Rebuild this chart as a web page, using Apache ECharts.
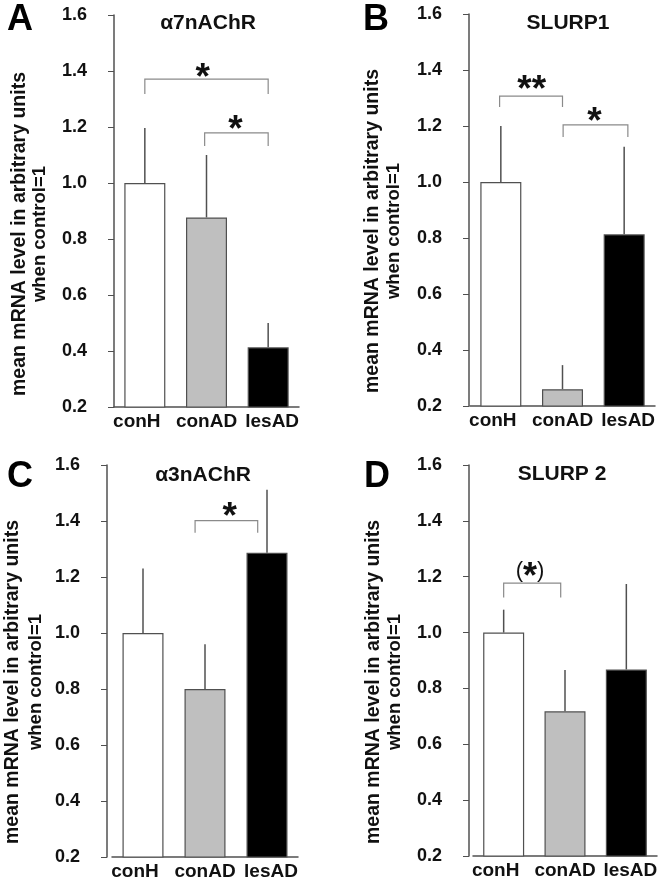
<!DOCTYPE html>
<html>
<head>
<meta charset="utf-8">
<script src="https://cdn.jsdelivr.net/npm/echarts@6/dist/echarts.min.js"></script>
<style>
    html, body { margin: 0; padding: 0; background: #fff; }
    #main { width: 664px; height: 885px; }
</style>
</head>
<body>
<div id="main"></div>
<script>
var categories = ['conH', 'conAD', 'lesAD'];
var panelLetters = ['A', 'B', 'C', 'D'];
var panelTitles = ['α7nAChR', 'SLURP1', 'α3nAChR', 'SLURP 2'];
var yName1 = 'mean mRNA level in arbitrary units';
var yName2 = 'when control=1';

// bar means
var meanA = [1.0, 0.877, 0.413];
var meanB = [1.0, 0.26, 0.813];
var meanC = [1.0, 0.80, 1.287];
var meanD = [1.0, 0.718, 0.868];

// upper ends of the error bars
var errTopA = [1.196, 1.10, 0.50];
var errTopB = [1.20, 0.346, 1.126];
var errTopC = [1.23, 0.96, 1.512];
var errTopD = [1.082, 0.866, 1.174];

// brackets: [from, to, top, leftLegEnd, rightLegEnd, starX, starY, label]
var bracketsA = [[0, 2, 1.371, 1.318, 1.318, 0.94, 1.40, '*'], [0.97, 2, 1.179, 1.132, 1.132, 1.47, 1.214, '*']];
var bracketsB = [[-0.02, 1.0, 1.307, 1.268, 1.268, 0.50, 1.354, '**'], [1.01, 2.06, 1.204, 1.161, 1.161, 1.52, 1.239, '*']];
var bracketsC = [[0.84, 1.85, 1.401, 1.358, 1.358, 1.40, 1.439, '*']];
var bracketsD = [[0, 0.93, 1.177, 1.126, 1.126, 0.43, 1.222, '(*)']];

var yMin = 0.2, yMax = 1.6, yStep = 0.2;
var barColors = ['#ffffff', '#bfbfbf', '#000000'];

var means = [meanA, meanB, meanC, meanD];
var errTops = [errTopA, errTopB, errTopC, errTopD];
var brackets = [bracketsA, bracketsB, bracketsC, bracketsD];

// layout of the four panels
var grids = [
    {left: 114, top: 15, width: 185, height: 392},
    {left: 470, top: 14, width: 185, height: 392},
    {left: 112, top: 465, width: 186, height: 392},
    {left: 473, top: 465, width: 184, height: 391}
];
var axisOffsets = [0, 1, 5, 4];
var labelPads = [[0, 16, 0, 0], [0, 0, 0, 0], [0, 0, 0, 8]];   // spreads the x labels a little
var letterPos = [[20, 20], [376, 20], [20, 477], [377, 477]];
var titlePos = [[208, 23], [568, 23], [203, 475], [562, 474]];
var namePos = [[20, 40, 234], [373, 394, 231], [13, 36, 682], [374, 395, 682]];

var FONT = 'Liberation Sans, Arial, sans-serif';

function errorBarItem(params, api) {
    var base = api.coord([api.value(0), api.value(1)]);
    var top = api.coord([api.value(0), api.value(2)]);
    return {
        type: 'line',
        shape: {x1: base[0], y1: base[1], x2: top[0], y2: top[1]},
        style: {stroke: '#505050', lineWidth: 1.5}
    };
}

function bracketItem(params, api) {
    var a = api.coord([api.value(0), api.value(3)]);
    var b = api.coord([api.value(0), api.value(2)]);
    var c = api.coord([api.value(1), api.value(2)]);
    var d = api.coord([api.value(1), api.value(4)]);
    var s = api.coord([api.value(5), api.value(6)]);
    var label = api.value(7);
    var textEl;
    if (label === '(*)') {
        textEl = {
            type: 'text',
            x: s[0], y: s[1],
            style: {
                text: '{p|(}{s|*}{p|)}',
                align: 'center', verticalAlign: 'middle',
                rich: {
                    p: {font: 'normal 22px ' + FONT, fill: '#111'},
                    s: {font: 'bold 36px ' + FONT, fill: '#111', padding: [16, 0, 0, 0]}
                }
            }
        };
    } else {
        textEl = {
            type: 'text',
            x: s[0], y: s[1] + 8,
            style: {
                text: label,
                align: 'center', verticalAlign: 'middle',
                font: 'bold 37px ' + FONT, fill: '#111'
            }
        };
    }
    return {
        type: 'group',
        children: [{
            type: 'polyline',
            shape: {points: [a, b, c, d]},
            style: {stroke: '#8a8a8a', lineWidth: 1.2, fill: null}
        }, textEl]
    };
}

function buildOption() {
    var option = {
        backgroundColor: '#fff',
        animation: false,
        grid: [],
        xAxis: [],
        yAxis: [],
        series: [],
        graphic: []
    };
    var catData = [];
    for (var k = 0; k < categories.length; k++) {
        catData.push({value: categories[k], textStyle: {padding: labelPads[k]}});
    }
    for (var i = 0; i < 4; i++) {
        option.grid.push(grids[i]);
        option.xAxis.push({
            type: 'category',
            gridIndex: i,
            data: catData,
            axisLine: {onZero: false, lineStyle: {color: '#505050', width: 1.5}},
            axisTick: {show: false},
            axisLabel: {interval: 0, fontSize: 19, fontWeight: 'bold', fontFamily: FONT, color: '#111', margin: 5}
        });
        option.yAxis.push({
            type: 'value',
            gridIndex: i,
            min: yMin, max: yMax, interval: yStep,
            offset: axisOffsets[i],
            splitLine: {show: false},
            axisLine: {show: true, onZero: false, lineStyle: {color: '#505050', width: 1.5}},
            axisTick: {show: true, length: 6, lineStyle: {color: '#505050'}},
            axisLabel: {
                fontSize: 18, fontWeight: 'bold', fontFamily: FONT, color: '#111', margin: 27,
                formatter: function (v) { return v.toFixed(1); }
            }
        });
    }
    // hidden value axes for the significance brackets
    for (var i = 0; i < 4; i++) {
        option.xAxis.push({type: 'value', gridIndex: i, min: -0.5, max: 2.5, show: false});
    }
    for (var i = 0; i < 4; i++) {
        var barData = [];
        var errData = [];
        for (var k = 0; k < categories.length; k++) {
            barData.push({value: means[i][k], itemStyle: {color: barColors[k]}});
            errData.push([k, means[i][k], errTops[i][k]]);
        }
        option.series.push({
            type: 'bar',
            xAxisIndex: i, yAxisIndex: i,
            barWidth: 41,
            data: barData,
            itemStyle: {borderColor: '#505050', borderWidth: 1.2}
        });
        option.series.push({
            type: 'custom',
            xAxisIndex: i, yAxisIndex: i,
            renderItem: errorBarItem,
            data: errData,
            z: 1
        });
        option.series.push({
            type: 'custom',
            xAxisIndex: 4 + i, yAxisIndex: i,
            renderItem: bracketItem,
            data: brackets[i],
            z: 3
        });

        option.graphic.push({
            type: 'text', x: letterPos[i][0], y: letterPos[i][1],
            style: {text: panelLetters[i], font: 'bold 36px ' + FONT, fill: '#000', align: 'center', verticalAlign: 'middle'}
        });
        option.graphic.push({
            type: 'text', x: titlePos[i][0], y: titlePos[i][1],
            style: {text: panelTitles[i], font: 'bold 21px ' + FONT, fill: '#111', align: 'center', verticalAlign: 'middle'}
        });
        option.graphic.push({
            type: 'text', x: namePos[i][0], y: namePos[i][2], rotation: Math.PI / 2,
            style: {text: yName1, font: 'bold 19.5px ' + FONT, fill: '#111', align: 'center', verticalAlign: 'middle'}
        });
        option.graphic.push({
            type: 'text', x: namePos[i][1], y: namePos[i][2], rotation: Math.PI / 2,
            style: {text: yName2, font: 'bold 18.5px ' + FONT, fill: '#111', align: 'center', verticalAlign: 'middle'}
        });
    }
    return option;
}

var chart = echarts.init(document.getElementById('main'));
chart.setOption(buildOption());
</script>
</body>
</html>
